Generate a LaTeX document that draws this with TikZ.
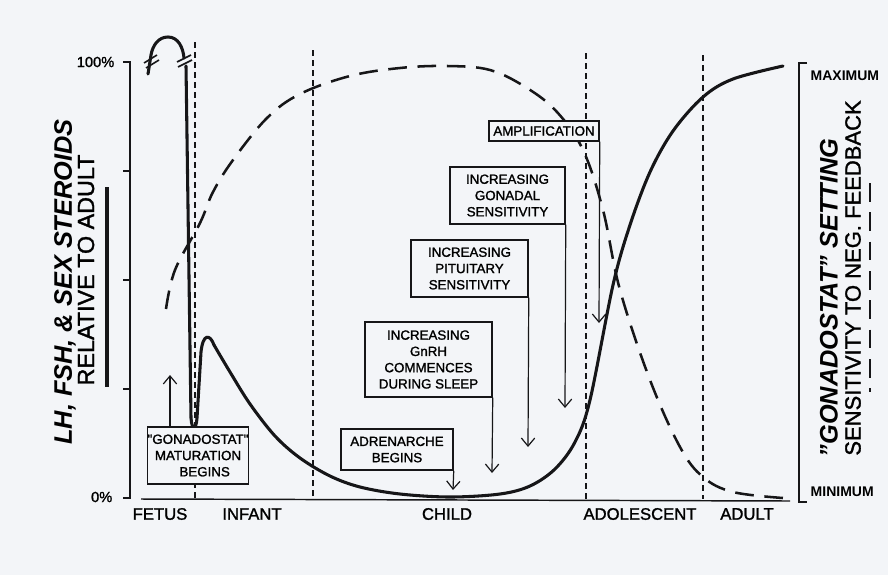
\documentclass[tikz,border=0pt]{standalone}
\usepackage{fontspec}
\setmainfont{Liberation Sans}
\newfontfamily\medfont{Liberation Sans}[FakeBold=1.4]
\usetikzlibrary{arrows.meta,positioning}
\definecolor{paper}{RGB}{243,245,248}
\definecolor{ink}{RGB}{22,22,24}
\tikzset{
box/.style={draw=ink, fill=paper, line width=1.1pt, inner sep=0pt, align=center,
  font=\medfont\fontsize{10}{12.2}\selectfont}, % the labelled boxes
arr/.style={draw=ink, line width=0.9pt, -{Straight Barb[length=6pt,width=10pt]}},
divider/.style={draw=ink, line width=1pt, dash pattern=on 4.5pt off 3pt}, % age borders
lhline/.style={draw=ink, line width=2.3pt, line cap=round, line join=round}, % LH, FSH
setline/.style={draw=ink, line width=1.9pt, dash pattern=on 14pt off 8pt}, % gonadostat
axisline/.style={draw=ink, line width=1.1pt},
agelbl/.style={font=\medfont\fontsize{12.5}{14}\selectfont},
}

\begin{document}
\begin{tikzpicture}[x=0.75pt,y=-0.75pt]
\fill[paper] (0,0) rectangle (888,575);
\useasboundingbox (0,0) rectangle (888,575);

% left scale
\draw[axisline] (123,62) -- (130,62) -- (130,498) -- (123,498);
\foreach \yy in {171,280,389}
  \draw[axisline] (123,\yy) -- (130,\yy);
\node[anchor=east, font=\medfont\fontsize{11}{13}\selectfont] (hundred) at (119,62) {100\%};
\node[anchor=east, font=\medfont\fontsize{11}{13}\selectfont] (zero) at (117,497) {0\%};
\node[rotate=90, font=\fontsize{19}{22}\bfseries\itshape\selectfont] (lhLbl) at (65,282) {LH, FSH, \& SEX STEROIDS};
\node[rotate=90, font=\medfont\fontsize{17.5}{20}\selectfont] (relLbl) at (86,270) {RELATIVE TO ADULT};
\draw[ink, line width=2.3pt] (107,187) -- (107,387);

% right scale
\draw[axisline] (807,63) -- (799,63) -- (799,502) -- (807,502);
\node[anchor=west, font=\fontsize{10.5}{12}\bfseries\selectfont] (maxLbl) at (806,76) {MAXIMUM};
\node[anchor=west, font=\fontsize{10.5}{12}\bfseries\selectfont] (minLbl) at (806,492) {MINIMUM};
\node[rotate=90, font=\fontsize{19}{22}\bfseries\itshape\selectfont] (setLbl) at (829,298) {"GONADOSTAT" SETTING};
\node[rotate=90, font=\medfont\fontsize{16.5}{19}\selectfont] (sensLbl) at (853,278) {SENSITIVITY TO NEG. FEEDBACK};
\draw[ink, line width=1.9pt, dash pattern=on 14pt off 8pt] (870,183) -- (870,392);

% age axis
\draw[axisline] (141,499) -- (790,501);
\foreach \xx/\yt in {195/42,313/50,586/53,703/55}
  \draw[divider] (\xx,\yt) -- (\xx,499);
\node[agelbl] (fetus) at (160,514) {FETUS};
\node[agelbl] (infant) at (252,514) {INFANT};
\node[agelbl] (child) at (447,514) {CHILD};
\node[agelbl] (adolescent) at (640,514) {ADOLESCENT};
\node[agelbl] (adult) at (747,514) {ADULT};

% gonadostat setting
\draw[setline] plot[smooth, tension=0.6] coordinates {(166,309) (175,270) (200,223) (213,192)
  (233,160) (267,118) (300,94) (350,76) (400,68) (447,66) (490,70) (527,88) (557,112)
  (583,150) (603,210) (620,290) (650,380) (680,447) (703,477) (733,492) (783,498)};

% LH, FSH
\draw[lhline] (148,74) -- (151,55) to[out=80,in=180] (168,37) to[out=0,in=95] (184,58);
\draw[ink, line width=1.2pt] (144,63) -- (157,55) (146,68) -- (159,60);
\draw[ink, line width=1.2pt] (177,62) -- (191,55) (178,67) -- (192,60);
\draw[lhline] (186,66) -- (191,418) .. controls (192,431) and (196,431) .. (197,418)
  -- (201,352) .. controls (203,333) and (210,334) .. (214,345);
\draw[lhline] plot[smooth, tension=0.55] coordinates {(214,345) (230,372) (250,404) (275,436)
  (300,458) (330,476) (360,487) (400,494) (450,497) (500,494) (530,486) (555,469)
  (575,442) (590,400) (613,285) (630,225) (650,172) (673,131) (703,97) (733,79) (783,66)};

% boxes and their arrows
\node[box, minimum width=75pt, minimum height=42.75pt] (gonBox) at (198,455.5)
  {"GONADOSTAT"\\MATURATION\\\quad BEGINS};
\node[box, minimum width=84pt, minimum height=30.75pt] (adrBox) at (397,449.5)
  {ADRENARCHE\\BEGINS};
\node[box, minimum width=95.25pt, minimum height=56.25pt] (gnrhBox) at (428.5,359.5)
  {INCREASING\\GnRH\\COMMENCES\\DURING SLEEP};
\node[box, minimum width=87.75pt, minimum height=42.75pt] (pitBox) at (469.5,268.5)
  {INCREASING\\PITUITARY\\SENSITIVITY};
\node[box, minimum width=86.25pt, minimum height=42.75pt] (gondBox) at (507.5,195.5)
  {INCREASING\\GONADAL\\SENSITIVITY};
\node[box, minimum width=82.5pt, minimum height=15pt] (ampBox) at (544,131)
  {AMPLIFICATION};

\coordinate (gonTip) at (170,375);
\coordinate (adrTip) at (453,490);
\coordinate (gnrhTip) at (492,473);
\coordinate (pitTip) at (528,447);
\coordinate (gondTip) at (565,408);
\coordinate (ampTip) at (599,323);
\draw[arr] (gonBox.north west -| gonTip) -- (gonTip);
\draw[arr] (adrBox.south east) -- (adrTip);
\draw[arr] (gnrhBox.south east) -- (gnrhTip);
\draw[arr] (pitBox.south east) -- (pitTip);
\draw[arr] (gondBox.south east) -- (gondTip);
\draw[arr] (ampBox.south east) -- (ampTip);
\end{tikzpicture}
\end{document}
